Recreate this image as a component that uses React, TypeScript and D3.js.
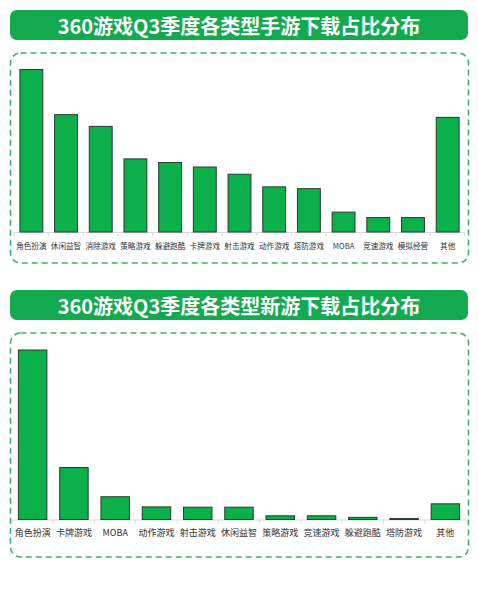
import React, { useEffect, useRef } from 'react';
import * as d3 from 'd3';

// 手游下载占比 (%)
const mobileCategories = ['角色扮演', '休闲益智', '消除游戏', '策略游戏', '躲避跑酷', '卡牌游戏', '射击游戏', '动作游戏', '塔防游戏', 'MOBA', '竞速游戏', '模拟经营', '其他'];
const mobileValues = [18.0, 13.0, 11.7, 8.1, 7.7, 7.2, 6.4, 5.0, 4.8, 2.2, 1.6, 1.6, 12.7];

// 新游下载占比 (%)
const newCategories = ['角色扮演', '卡牌游戏', 'MOBA', '动作游戏', '射击游戏', '休闲益智', '策略游戏', '竞速游戏', '躲避跑酷', '塔防游戏', '其他'];
const newValues = [55.1, 16.9, 7.4, 4.1, 4.0, 4.0, 1.2, 1.2, 0.7, 0.3, 5.1];

const titles = ['360游戏Q3季度各类型手游下载占比分布', '360游戏Q3季度各类型新游下载占比分布'];

const W = 478;
const H = 600;
const FONT = '"Noto Sans CJK SC", "Noto Sans", sans-serif';

interface Panel {
  title: string;
  cats: string[];
  vals: number[];
  titleY: number;
  boxY0: number;
  boxY1: number;
  x0: number;
  x1: number;
  top: number;
  base: number;
  pad: number;
  labelSize: number;
}

const drawPanel = (svg: d3.Selection<SVGSVGElement, unknown, null, undefined>, p: Panel) => {
  const g = svg.append('g');

  // title bar
  g.append('rect')
    .attr('x', 10).attr('y', p.titleY)
    .attr('width', 458).attr('height', 30)
    .attr('rx', 7)
    .attr('fill', '#12a94f');
  g.append('text')
    .attr('x', 239).attr('y', p.titleY + 15)
    .attr('text-anchor', 'middle')
    .attr('dominant-baseline', 'central')
    .attr('fill', '#ffffff')
    .attr('font-family', FONT)
    .attr('font-weight', 700)
    .attr('font-size', 20)
    .text(p.title);

  // dashed frame
  g.append('rect')
    .attr('x', 10.5).attr('y', p.boxY0)
    .attr('width', 458).attr('height', p.boxY1 - p.boxY0)
    .attr('rx', 10)
    .attr('fill', 'none')
    .attr('stroke', '#3bb26c')
    .attr('stroke-width', 1.6)
    .attr('stroke-dasharray', '6,4');

  const x = d3.scaleBand<string>().domain(p.cats).range([p.x0, p.x1]).paddingInner(p.pad).paddingOuter(p.pad / 2);
  const y = d3.scaleLinear().domain([0, d3.max(p.vals) as number]).range([p.base, p.top]);

  // axis baseline + separators
  g.append('line')
    .attr('x1', p.x0).attr('x2', p.x1)
    .attr('y1', p.base + 0.5).attr('y2', p.base + 0.5)
    .attr('stroke', '#d9d9d9');
  const step = x.step();
  g.append('g').selectAll('line')
    .data(d3.range(p.cats.length + 1))
    .join('line')
    .attr('x1', i => p.x0 + i * step).attr('x2', i => p.x0 + i * step)
    .attr('y1', p.base).attr('y2', p.base + 4)
    .attr('stroke', '#d9d9d9');

  g.append('g').selectAll('rect')
    .data(p.vals)
    .join('rect')
    .attr('x', (d, i) => x(p.cats[i]) as number)
    .attr('width', x.bandwidth())
    .attr('y', d => y(d))
    .attr('height', d => p.base - y(d))
    .attr('fill', '#0bb04b')
    .attr('stroke', '#2b3b30')
    .attr('stroke-width', 1);

  g.append('g').selectAll('text')
    .data(p.cats)
    .join('text')
    .attr('x', d => (x(d) as number) + x.bandwidth() / 2)
    .attr('y', p.base + 13)
    .attr('text-anchor', 'middle')
    .attr('dominant-baseline', 'central')
    .attr('fill', '#333333')
    .attr('font-family', FONT)
    .attr('font-size', p.labelSize)
    .text(d => d);
};

export default function App() {
  const ref = useRef<SVGSVGElement>(null);

  useEffect(() => {
    if (!ref.current) return;
    const svg = d3.select(ref.current);
    svg.selectAll('*').remove();

    drawPanel(svg, {
      title: titles[0], cats: mobileCategories, vals: mobileValues,
      titleY: 10, boxY0: 53, boxY1: 263,
      x0: 14, x1: 465, top: 69.5, base: 232, pad: 0.34, labelSize: 7.6,
    });
    drawPanel(svg, {
      title: titles[1], cats: newCategories, vals: newValues,
      titleY: 290, boxY0: 333, boxY1: 557,
      x0: 12, x1: 466, top: 350, base: 519.5, pad: 0.31, labelSize: 9,
    });
  }, []);

  return (
    <div style={{ position: 'absolute', left: 0, top: 0, width: W, height: H, background: '#ffffff' }}>
      <svg ref={ref} width={W} height={H} />
    </div>
  );
}
